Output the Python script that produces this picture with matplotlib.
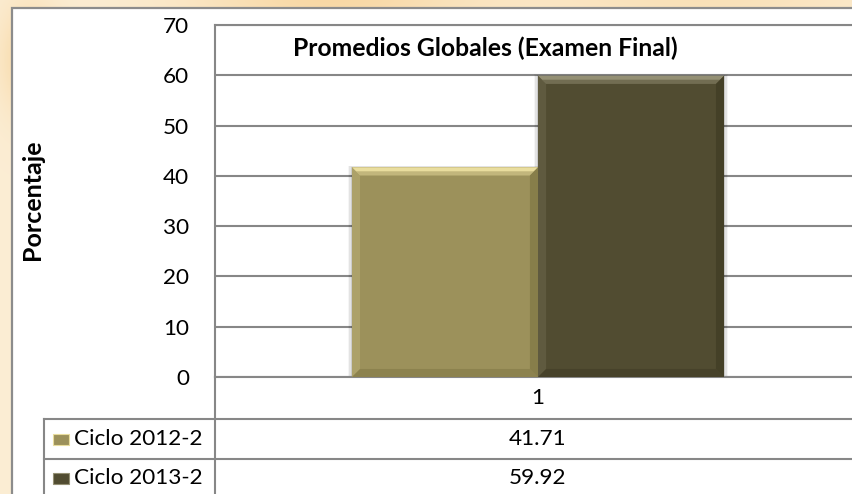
import numpy as np
import matplotlib.pyplot as plt
from matplotlib.patches import Rectangle, Polygon
from matplotlib.lines import Line2D

plt.rcParams['font.family'] = ['Lato', 'DejaVu Sans']

# Datos
categorias = ['1']
series = ['Ciclo 2012-2', 'Ciclo 2013-2']
valores = [41.71, 59.92]
colores = ['#9c915b', '#514c31']
claros = ['#e9dd9e', '#949074']
oscuros = ['#6f6836', '#36321d']
yticks = [0, 10, 20, 30, 40, 50, 60, 70]

W, H = 853, 494
fig = plt.figure(figsize=(W / 100, H / 100), dpi=100)


def fx(x):
    return x / W


def fy(y):
    return 1 - y / H


# Fondo tipo pergamino
yy, xx = np.mgrid[0:H, 0:W]
base = np.array([0.985, 0.93, 0.83])
mancha = np.exp(-((xx - 330) ** 2 / 2e4 + (yy - 0) ** 2 / 800.0))
mancha += np.exp(-((xx - 30) ** 2 / 900.0 + (yy - 60) ** 2 / 3e3))
mancha += 0.6 * np.exp(-((xx - 700) ** 2 / 3e4 + (yy - 0) ** 2 / 500.0))
tono = np.array([-0.01, -0.08, -0.18])
img = np.clip(base[None, None, :] + mancha[..., None] * tono[None, None, :], 0, 1)
bg = fig.add_axes([0, 0, 1, 1], zorder=-10)
bg.imshow(img, aspect='auto', extent=[0, 1, 0, 1])
bg.axis('off')

# Panel blanco del grafico
fig.add_artist(Rectangle((fx(12), fy(H + 10)), fx(W + 20 - 12), fy(8) - fy(H + 10),
                         transform=fig.transFigure, facecolor='white',
                         edgecolor='#8c8c8c', linewidth=1.6, zorder=-5))

# Area de trazado
ax = fig.add_axes([fx(215), fy(377), fx(861) - fx(215), fy(25) - fy(377)])
ax.set_xlim(0.5, 1.5)
ax.set_ylim(0, 70)
ax.set_yticks(yticks)
ax.set_xticks([])
ax.tick_params(axis='y', length=0, pad=18.5, labelsize=16.2)
for s in ['left', 'top', 'bottom', 'right']:
    ax.spines[s].set_color('#878787')
    ax.spines[s].set_linewidth(1.5)
ax.grid(axis='y', color='#878787', linewidth=1.5)
ax.set_axisbelow(True)

ancho = 0.288
dx, dy = 0.0125, 1.6
for i, v in enumerate(valores):
    x0 = 1 - ancho + i * ancho
    x1 = x0 + ancho
    # sombra suave
    for k, a in enumerate([0.10, 0.07, 0.04]):
        e = 0.002 * (k + 1)
        ax.add_patch(Rectangle((x0 - e, -0.2), ancho + 2 * e, v + 0.2 + e * 40,
                               facecolor='#000000', alpha=a, linewidth=0, zorder=2))
    ax.bar(x0, v, width=ancho, align='edge', color=colores[i], zorder=3)
    # bisel
    ax.add_patch(Polygon([(x0, v), (x1, v), (x1 - dx, v - dy), (x0 + dx, v - dy)],
                         facecolor=claros[i], linewidth=0, zorder=4))
    ax.add_patch(Polygon([(x0 + dx / 2, v - dy / 2), (x1 - dx / 2, v - dy / 2),
                          (x1 - dx, v - dy), (x0 + dx, v - dy)],
                         facecolor=colores[i], alpha=0.5, linewidth=0, zorder=4))
    ax.add_patch(Polygon([(x0, 0), (x0, v), (x0 + dx, v - dy), (x0 + dx, dy)],
                         facecolor=claros[i], alpha=0.22, linewidth=0, zorder=4))
    ax.add_patch(Polygon([(x1, 0), (x1, v), (x1 - dx, v - dy), (x1 - dx, dy)],
                         facecolor=oscuros[i], alpha=0.45, linewidth=0, zorder=4))
    ax.add_patch(Polygon([(x0, 0), (x1, 0), (x1 - dx, dy), (x0 + dx, dy)],
                         facecolor=oscuros[i], alpha=0.35, linewidth=0, zorder=4))

fig.text(fx(485), fy(48), 'Promedios Globales (Examen Final)', ha='center', va='center',
         fontsize=17.8, fontweight='bold')
fig.text(fx(33), fy(200), 'Porcentaje', rotation=90, ha='center', va='center',
         fontsize=18, fontweight='bold')

# Tabla de datos
gris = '#878787'
lineas = [
    ((215, 215), (377, H + 5)),
    ((44, W + 5), (418.5, 418.5)),
    ((44, W + 5), (459, 459)),
    ((44, 44), (418.5, H + 5)),
]
for xs, ys in lineas:
    fig.add_artist(Line2D([fx(x) for x in xs], [fy(y) for y in ys],
                          transform=fig.transFigure, color=gris, linewidth=1.5))

fig.text(fx(538), fy(398), categorias[0], ha='center', va='center', fontsize=16.2)
filas_y = [439, 478]
for i, nombre in enumerate(series):
    y = filas_y[i]
    fig.text(fx(538), fy(y), f'{valores[i]:.2f}', ha='center', va='center', fontsize=16.2)
    fig.text(fx(74), fy(y), nombre, ha='left', va='center', fontsize=16.2)
    fig.add_artist(Rectangle((fx(53), fy(y + 5.5)), fx(16), fy(y - 5.5) - fy(y + 5.5),
                             transform=fig.transFigure, facecolor=colores[i],
                             edgecolor=claros[i], linewidth=0.8))

fig.savefig('out.png', dpi=100)
